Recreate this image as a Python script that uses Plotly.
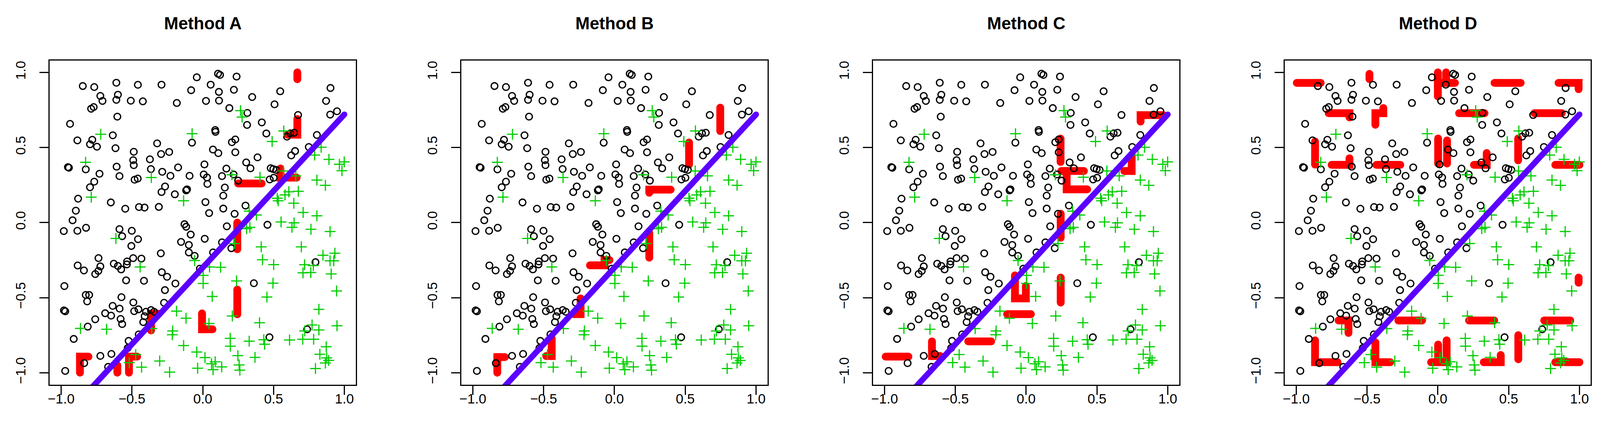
import plotly.graph_objects as go

# panel titles and tick labels
methods = ["Method A", "Method B", "Method C", "Method D"]
tick_vals = [-1.0, -0.5, 0.0, 0.5, 1.0]
tick_text = ["\u22121.0", "\u22120.5", "0.0", "0.5", "1.0"]

# class 1 (open circles)
circle_x = [
    -0.847, -0.766, -0.610, -0.458, -0.291, -0.042, -0.082, -0.723, -0.708, -0.599,
    -0.610, -0.508, -0.423, -0.183, -0.788, -0.770, -0.603, -0.937, -0.635, -0.885,
    -0.780, -0.796, -0.747, -0.616, -0.487, -0.322, -0.076, -0.294, -0.237, -0.491,
    -0.487, -0.373, -0.952, -0.945, -0.826, -0.608, -0.366, -0.174, -0.286, -0.729,
    -0.588, -0.228, -0.093, -0.481, -0.459, -0.766, -0.796, -0.266, -0.291, -0.117,
    -0.111, -0.197, -0.880, -0.649, -0.547, -0.450, -0.411, -0.310, -0.896,
    0.108, 0.122, 0.239, 0.056, 0.114, 0.220, 0.023, 0.115, 0.349, 0.547,
    0.507, 0.902, 0.871, 0.188, 0.315, 0.313, 0.417, 0.673, 0.900, 0.948,
    0.088, 0.090, 0.449, 0.206, 0.230, 0.595, 0.618, 0.645, 0.806, 0.072,
    0.110, 0.230, 0.387, 0.625, 0.652, 0.749, 0.012, 0.307, 0.337, 0.167,
    0.480, 0.498, 0.519, 0.007, 0.030, 0.136, 0.218, 0.250, 0.473, 0.501,
    0.033, 0.156, 0.145, 0.019, 0.145, 0.045, 0.302, 0.225,
    -0.919, -0.981, -0.885, -0.824, -0.588, -0.569, -0.501, -0.457, -0.504, -0.129,
    -0.117, -0.085, -0.153, -0.098, -0.098, -0.057, -0.296, -0.736, -0.883, -0.839,
    -0.723, -0.737, -0.759, -0.628, -0.599, -0.576, -0.534, -0.536, -0.491, -0.433,
    -0.541, -0.415, -0.289, -0.252, -0.193, -0.267, -0.977, -0.826, -0.802, -0.816,
    -0.574, -0.490, -0.980, -0.971, -0.636, -0.587, -0.454, -0.484, -0.273, -0.689,
    -0.647, -0.759, -0.580, -0.569, -0.401, -0.365, -0.344, -0.410, -0.420, -0.812,
    -0.911, -0.452, -0.523, -0.530, -0.723, -0.645, -0.837, -0.668, -0.971, -0.020,
    0.170, 0.457, 0.014, 0.136, 0.073, 0.202, 0.361, 0.796, 0.737, 0.471,
]
circle_y = [
    0.909, 0.902, 0.931, 0.917, 0.918, 0.967, 0.881, 0.843, 0.810, 0.851,
    0.817, 0.811, 0.807, 0.796, 0.758, 0.769, 0.705, 0.657, 0.581, 0.547,
    0.551, 0.521, 0.505, 0.495, 0.471, 0.527, 0.532, 0.456, 0.470, 0.415,
    0.382, 0.421, 0.369, 0.365, 0.354, 0.372, 0.356, 0.367, 0.338, 0.325,
    0.309, 0.311, 0.311, 0.285, 0.293, 0.272, 0.235, 0.240, 0.203, 0.214,
    0.221, 0.188, 0.159, 0.134, 0.092, 0.103, 0.100, 0.104, 0.079,
    0.991, 0.983, 0.972, 0.918, 0.870, 0.884, 0.810, 0.812, 0.836, 0.874,
    0.787, 0.896, 0.810, 0.762, 0.730, 0.650, 0.667, 0.716, 0.719, 0.741,
    0.616, 0.604, 0.593, 0.535, 0.553, 0.572, 0.594, 0.598, 0.583, 0.486,
    0.462, 0.468, 0.434, 0.447, 0.476, 0.503, 0.387, 0.400, 0.361, 0.359,
    0.362, 0.356, 0.350, 0.320, 0.300, 0.309, 0.320, 0.279, 0.287, 0.298,
    0.257, 0.233, 0.179, 0.136, 0.093, 0.063, 0.113, 0.058,
    0.015, -0.057, -0.055, -0.035, -0.044, -0.091, -0.055, -0.111, -0.156, -0.011,
    -0.028, -0.080, -0.129, -0.149, -0.199, -0.222, -0.205, -0.237, -0.286, -0.319,
    -0.292, -0.322, -0.343, -0.274, -0.289, -0.312, -0.259, -0.279, -0.237, -0.240,
    -0.385, -0.388, -0.331, -0.361, -0.406, -0.450, -0.423, -0.482, -0.482, -0.525,
    -0.497, -0.532, -0.585, -0.591, -0.555, -0.573, -0.578, -0.590, -0.534, -0.604,
    -0.620, -0.644, -0.642, -0.676, -0.594, -0.583, -0.594, -0.624, -0.663, -0.693,
    -0.775, -0.745, -0.788, -0.836, -0.888, -0.875, -0.936, -0.961, -0.988, -0.307,
    -0.025, -0.015, -0.108, -0.132, -0.199, -0.171, -0.404, -0.264, -0.711, -0.764,
]

# class 2 (crosses)
cross_x = [
    -0.720, -0.075, -0.827, -0.363, -0.787, -0.135,
    0.267, 0.278, 0.572, 0.490, 0.836, 0.790, 0.891, 0.965, 0.999, 0.983,
    0.206, 0.404, 0.570, 0.657, 0.806, 0.866, 0.675, 0.608, 0.581, 0.526,
    0.533, 0.643, 0.709, 0.806, 0.328, 0.379,
    -0.613, -0.442, -0.057, -0.863, -0.679, -0.185, -0.118, -0.212, -0.215, -0.135,
    -0.042, -0.036, -0.304, -0.234, -0.432, -0.519, -0.473, -0.360,
    0.553, 0.645, 0.630, 0.764, 0.899, 0.333, 0.310, 0.413, 0.696, 0.849,
    0.933, 0.899, 0.925, 0.422, 0.501, 0.719, 0.781, 0.708, 0.763, 0.907,
    0.126, 0.048, 0.003, 0.003, 0.239, 0.496, 0.067, 0.453, 0.945, 0.820,
    0.209, 0.401, 0.044, 0.772, 0.820, 0.720, 0.948, 0.194, 0.195, 0.328,
    0.431, 0.437, 0.613, 0.706, 0.783, 0.872, 0.827, 0.875, 0.889, 0.866,
    0.796, 0.016, 0.062, 0.088, 0.073, 0.134, 0.248, 0.257, 0.262, 0.369,
    0.225,
]
cross_y = [
    0.588, 0.592, 0.401, 0.300, 0.169, 0.145,
    0.745, 0.702, 0.610, 0.540, 0.501, 0.449, 0.421, 0.388, 0.404, 0.345,
    0.318, 0.302, 0.343, 0.311, 0.283, 0.248, 0.208, 0.205, 0.184, 0.162,
    0.145, 0.129, 0.067, 0.045, 0.076, 0.050,
    -0.106, -0.296, -0.253, -0.705, -0.711, -0.590, -0.637, -0.722, -0.747, -0.819,
    -0.862, -0.970, -0.922, -0.996, -0.963, -0.933, -0.879, -0.706,
    0.004, -0.002, -0.032, -0.045, -0.060, -0.032, -0.041, -0.162, -0.162, -0.218,
    -0.204, -0.255, -0.255, -0.248, -0.280, -0.281, -0.287, -0.335, -0.333, -0.342,
    -0.298, -0.296, -0.352, -0.406, -0.389, -0.404, -0.492, -0.496, -0.456, -0.578,
    -0.622, -0.667, -0.672, -0.682, -0.715, -0.722, -0.687, -0.771, -0.823, -0.790,
    -0.780, -0.810, -0.782, -0.777, -0.777, -0.827, -0.877, -0.901, -0.918, -0.935,
    -0.972, -0.899, -0.940, -0.927, -0.980, -0.961, -0.886, -0.948, -0.983, -0.898,
    -0.140,
]

# true boundary
boundary_x = [-0.8, 1.0]
boundary_y = [-1.116, 0.72]

# fitted boundary pieces for each method (polylines)
segments_a = [
    [(0.668, 0.954), (0.668, 1.0)],
    [(0.668, 0.689), (0.668, 0.585), (0.599, 0.585)],
    [(0.549, 0.360), (0.549, 0.299), (0.663, 0.299)],
    [(0.250, 0.260), (0.416, 0.260)],
    [(0.244, 0.0), (0.244, -0.178)],
    [(0.244, -0.446), (0.244, -0.611)],
    [(-0.005, -0.605), (-0.005, -0.711), (0.069, -0.711)],
    [(-0.314, -0.607), (-0.365, -0.607), (-0.365, -0.719)],
    [(-0.807, -0.893), (-0.867, -0.893), (-0.867, -1.0)],
    [(-0.603, -0.95), (-0.603, -1.0)],
    [(-0.463, -0.893), (-0.521, -0.893), (-0.521, -1.0)],
]
segments_b = [
    [(0.747, 0.765), (0.747, 0.609)],
    [(0.527, 0.533), (0.527, 0.386)],
    [(0.246, 0.198), (0.246, 0.219), (0.397, 0.219)],
    [(0.246, -0.07), (0.246, -0.234)],
    [(-0.173, -0.285), (-0.07, -0.285), (-0.07, -0.250), (-0.035, -0.250)],
    [(-0.239, -0.505), (-0.239, -0.610), (-0.288, -0.610)],
    [(-0.443, -0.770), (-0.443, -0.889), (-0.482, -0.889)],
    [(-0.773, -0.896), (-0.827, -0.896), (-0.827, -1.0)],
]
segments_c = [
    [(0.808, 0.672), (0.808, 0.715), (0.97, 0.715)],
    [(0.243, 0.559), (0.243, 0.403)],
    [(0.248, 0.343), (0.408, 0.343)],
    [(0.286, 0.343), (0.286, 0.221), (0.431, 0.221)],
    [(0.745, 0.45), (0.745, 0.343), (0.693, 0.343)],
    [(0.244, 0.059), (0.244, -0.101)],
    [(-0.079, -0.352), (-0.079, -0.505), (-0.002, -0.505), (-0.002, -0.422)],
    [(0.244, -0.366), (0.244, -0.533)],
    [(-0.135, -0.610), (0.034, -0.610)],
    [(-0.409, -0.791), (-0.247, -0.791)],
    [(-0.665, -0.791), (-0.665, -0.889), (-0.606, -0.889)],
    [(-0.992, -0.893), (-0.831, -0.893)],
]
segments_d = [
    [(-0.996, 0.930), (-0.827, 0.930)],
    [(-0.483, 0.955), (-0.483, 0.99)],
    [(0.0, 1.0), (0.0, 0.84)],
    [(0.058, 1.0), (0.058, 0.93)],
    [(0.0, 0.93), (0.121, 0.93)],
    [(0.40, 0.930), (0.585, 0.930)],
    [(0.852, 0.930), (0.994, 0.930), (0.994, 0.888)],
    [(-0.771, 0.728), (-0.624, 0.728), (-0.624, 0.70)],
    [(-0.441, 0.651), (-0.441, 0.728), (-0.385, 0.728), (-0.385, 0.763)],
    [(0.150, 0.728), (0.33, 0.728)],
    [(0.682, 0.728), (0.875, 0.728)],
    [(-0.867, 0.540), (-0.867, 0.386)],
    [(-0.750, 0.384), (-0.624, 0.384), (-0.624, 0.428)],
    [(-0.434, 0.384), (-0.265, 0.384)],
    [(0.002, 0.560), (0.002, 0.393)],
    [(0.065, 0.547), (0.065, 0.393)],
    [(0.255, 0.384), (0.345, 0.384), (0.345, 0.463)],
    [(0.567, 0.56), (0.567, 0.414)],
    [(0.829, 0.384), (1.0, 0.384)],
    [(0.994, -0.366), (0.994, -0.401)],
    [(-0.701, -0.652), (-0.631, -0.652), (-0.631, -0.735)],
    [(-0.279, -0.652), (-0.111, -0.652)],
    [(0.22, -0.652), (0.398, -0.652)],
    [(0.751, -0.652), (0.935, -0.652)],
    [(-0.867, -0.784), (-0.867, -0.930), (-0.708, -0.930)],
    [(-0.441, -0.798), (-0.441, -0.930), (-0.336, -0.930)],
    [(0.062, -0.784), (0.062, -0.930), (-0.048, -0.930)],
    [(0.002, -0.812), (0.002, -0.930)],
    [(0.324, -0.930), (0.444, -0.930), (0.444, -0.882)],
    [(0.568, -0.750), (0.568, -0.910)],
    [(0.829, -0.930), (1.0, -0.930)],
]
all_segments = [segments_a, segments_b, segments_c, segments_d]

W, H = 4106, 1106
# plot boxes in pixels
box_left, box_w, step = 113.6, 784.3, 1055.5
box_top, box_bottom = 146.5, 977.0


def seg_xy(segs):
    xs, ys = [], []
    for poly in segs:
        xs += [p[0] for p in poly] + [None]
        ys += [p[1] for p in poly] + [None]
    return xs, ys


fig = go.Figure()

font_family = "Liberation Sans, Arial, Helvetica, sans-serif"
axis_style = dict(
    range=[-1.08, 1.08], showgrid=False, zeroline=False,
    showline=True, linecolor="black", linewidth=3.3, mirror=True,
    ticks="outside", ticklen=23, tickwidth=3.3, tickcolor="black",
    tickmode="array", tickvals=tick_vals, ticktext=tick_text,
    tickfont=dict(family=font_family, size=35, color="black"),
    fixedrange=True,
)

for i, name in enumerate(methods):
    xa = "x" if i == 0 else f"x{i+1}"
    ya = "y" if i == 0 else f"y{i+1}"
    sx, sy = seg_xy(all_segments[i])
    fig.add_trace(go.Scatter(
        x=sx, y=sy, mode="lines+markers", xaxis=xa, yaxis=ya,
        line=dict(color="#FF0000", width=20),
        marker=dict(color="#FF0000", size=20, line=dict(width=0)),
        hoverinfo="skip"))
    fig.add_trace(go.Scatter(
        x=circle_x, y=circle_y, mode="markers", xaxis=xa, yaxis=ya,
        marker=dict(symbol="circle-open", size=17, color="black",
                    line=dict(color="black", width=3.3))))
    fig.add_trace(go.Scatter(
        x=cross_x, y=cross_y, mode="markers", xaxis=xa, yaxis=ya,
        marker=dict(symbol="cross-thin-open", size=20, color="#00CD00",
                    line=dict(color="#00CD00", width=3))))
    fig.add_trace(go.Scatter(
        x=boundary_x, y=boundary_y, mode="lines+markers", xaxis=xa, yaxis=ya,
        line=dict(color="#5B00FF", width=15),
        marker=dict(color="#5B00FF", size=15, line=dict(width=0)),
        hoverinfo="skip"))

    x0 = (box_left + i * step) / W
    x1 = (box_left + box_w + i * step) / W
    xkey = "xaxis" if i == 0 else f"xaxis{i+1}"
    ykey = "yaxis" if i == 0 else f"yaxis{i+1}"
    fig.update_layout(**{
        xkey: dict(axis_style, domain=[x0, x1], anchor=ya, ticklabelstandoff=-20),
        ykey: dict(axis_style, domain=[(H - box_bottom) / H, (H - box_top) / H],
                   anchor=xa, tickangle=-90, ticklabelstandoff=22),
    })
    fig.add_annotation(
        text=f"<b>{name}</b>", xref="paper", yref="paper",
        x=(x0 + x1) / 2, y=(H - 52) / H, xanchor="center", yanchor="middle",
        showarrow=False, font=dict(family=font_family, size=44, color="black"))

fig.update_layout(
    width=W, height=H, margin=dict(l=0, r=0, t=0, b=0),
    paper_bgcolor="white", plot_bgcolor="white", showlegend=False,
)

fig.write_html("out.html")
